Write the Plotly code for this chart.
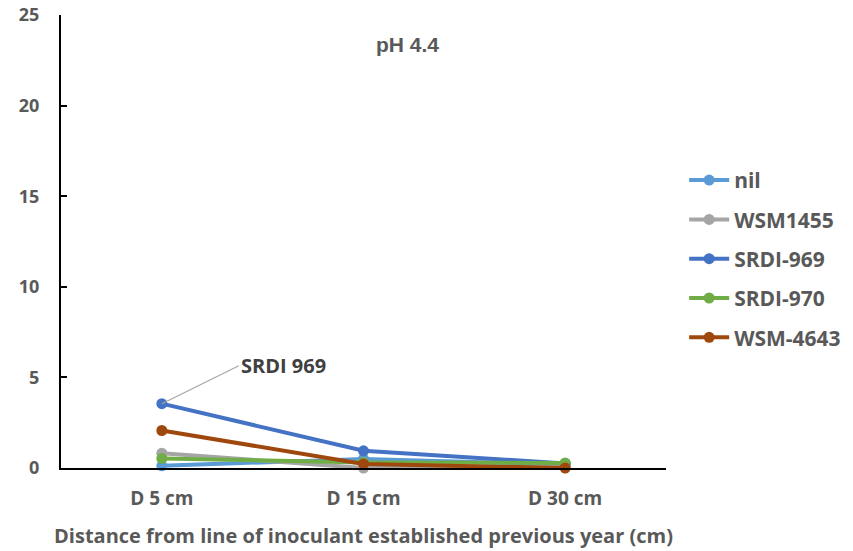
import plotly.graph_objects as go

categories = ["D 5 cm", "D 15 cm", "D 30 cm"]
series_names = ["nil", "WSM1455", "SRDI-969", "SRDI-970", "WSM-4643"]
nil_vals = [0.12, 0.5, 0.2]
wsm1455_vals = [0.82, 0.0, 0.05]
srdi969_vals = [3.55, 0.95, 0.25]
srdi970_vals = [0.53, 0.3, 0.28]
wsm4643_vals = [2.07, 0.22, 0.0]
colors = ["#5B9BD5", "#A5A5A5", "#4472C4", "#70AD47", "#9E480E"]
y_ticks = [0, 5, 10, 15, 20, 25]

values = [nil_vals, wsm1455_vals, srdi969_vals, srdi970_vals, wsm4643_vals]
font_family = "Open Sans, Liberation Sans, sans-serif"
text_col = "#595959"


def bold(size, color=text_col, family=font_family):
    return dict(family=family, color=color, size=size, weight="bold")


fig = go.Figure()
for name, vals, col in zip(series_names, values, colors):
    fig.add_trace(go.Scatter(
        x=categories, y=vals, name=name, mode="lines+markers", legendgroup=name,
        line=dict(color=col, width=4), marker=dict(color=col, size=11),
        cliponaxis=False,
    ))

fig.add_annotation(
    x=categories[0], y=srdi969_vals[0], text="SRDI 969",
    showarrow=True, arrowhead=0, arrowwidth=1.2, arrowcolor="#A6A6A6",
    ax=77, ay=-38, xanchor="left", yanchor="middle",
    font=bold(20, "#404040"),
)
fig.add_annotation(
    xref="paper", yref="paper", x=0.573, y=0.934, text="pH 4.4",
    xanchor="center", yanchor="middle",
    showarrow=False, font=bold(21, text_col, "Liberation Sans, Arial, sans-serif"),
)

fig.update_layout(
    width=853, height=551,
    margin=dict(l=61, r=187, t=15, b=83, autoexpand=False),
    plot_bgcolor="white", paper_bgcolor="white",
    font=dict(family=font_family, color=text_col, size=19),
    showlegend=True,
    legend=dict(x=1.03, y=0.68, xanchor="left", yanchor="top",
                font=bold(21), itemwidth=40, tracegroupgap=9),
    xaxis=dict(
        type="category", range=[-0.5, 2.5], showline=True, linecolor="black",
        linewidth=2, ticks="", showgrid=False, zeroline=False, automargin=False,
        tickfont=bold(19), ticklabelstandoff=12,
        title=dict(text="Distance from line of inoculant established previous year (cm)",
                   font=bold(20), standoff=19),
    ),
    yaxis=dict(
        range=[0, 25], tickvals=y_ticks, showline=True, linecolor="black",
        linewidth=2, ticks="inside", ticklen=6, tickwidth=2, tickcolor="black",
        showgrid=False, zeroline=False, ticklabelstandoff=16, automargin=False,
        tickfont=bold(18),
    ),
)

fig.write_html("out.html")
